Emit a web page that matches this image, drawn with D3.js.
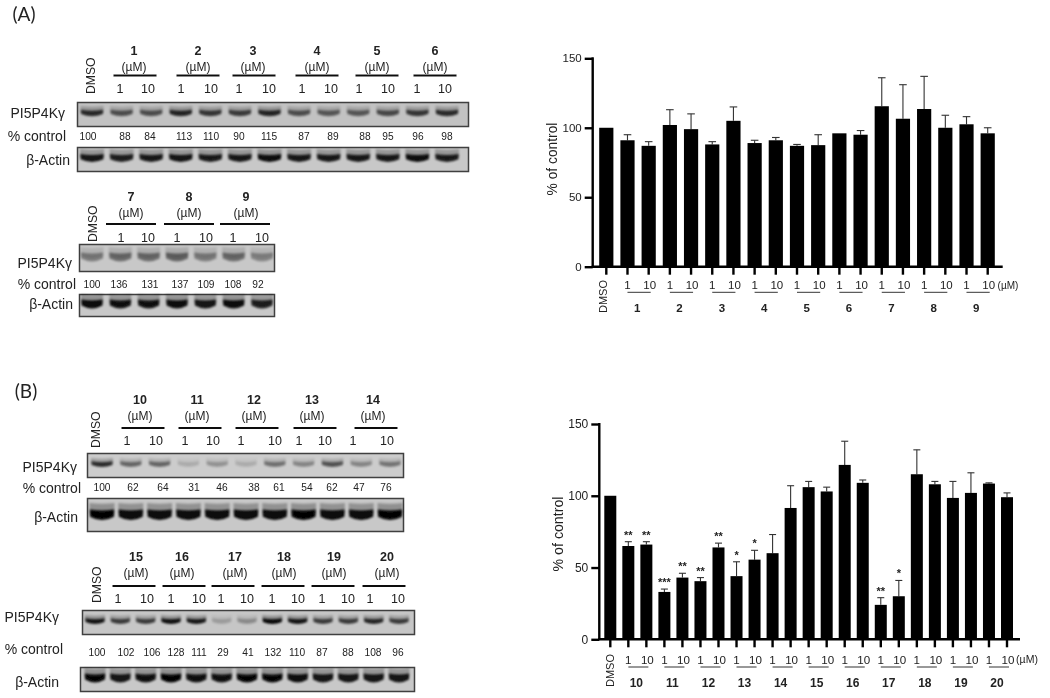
<!DOCTYPE html>
<html><head><meta charset="utf-8">
<script src="https://cdn.jsdelivr.net/npm/d3@7/dist/d3.min.js"></script>
<style>html,body{margin:0;padding:0;background:#fff}svg{display:block}text{font-family:"Liberation Sans",Arial,sans-serif;fill:#222}</style>
</head><body><svg id="fig" width="1050" height="698"></svg>
<script>
// ---- Bar chart data ----
const compoundsA = ["1","2","3","4","5","6","7","8","9"];
const barLabelsA = ["DMSO","1:1","1:10","2:1","2:10","3:1","3:10","4:1","4:10","5:1","5:10","6:1","6:10","7:1","7:10","8:1","8:10","9:1","9:10"];
const meansA = [100,91,87,102,99,88,105,89,91,87,87.5,96,95,115.5,106.5,113.5,100,102.5,96];
const errTopsA = [100,95,90,113,110,90,115,91,93,88,95,96,98,136,131,137,109,108,100];

const compoundsB = ["10","11","12","13","14","15","16","17","18","19","20"];
const barLabelsB = ["DMSO","10:1","10:10","11:1","11:10","12:1","12:10","13:1","13:10","14:1","14:10","15:1","15:10","16:1","16:10","17:1","17:10","18:1","18:10","19:1","19:10","20:1","20:10"];
const meansB = [100,65,66,33,43,40.5,64,44,55.5,60,91.5,106,103,121.5,109,24,30,115,108,98.5,102,108.5,99];
const errTopsB = [100,68,68,35,46,43,67,54,62,73,107,110,106,138,111,29,41,132,110,110,116,109,102];
const starsB = ["","**","**","***","**","**","**","*","*","","","","","","","**","*","","","","","",""];

// ---- Blot data: printed % control and band darkness per lane ----
const pctA1 = [100,88,84,113,110,90,115,87,89,88,95,96,98];
const pctA2 = [100,136,131,137,109,108,92];
const pctB1 = [100,62,64,31,46,38,61,54,62,47,76];
const pctB2 = [100,102,106,128,111,29,41,132,110,87,88,108,96];
const groupsA1 = ["1","2","3","4","5","6"];
const groupsA2 = ["7","8","9"];
const groupsB1 = ["10","11","12","13","14"];
const groupsB2 = ["15","16","17","18","19","20"];
const targetA1 = [.75,.55,.55,.78,.68,.65,.78,.55,.5,.5,.58,.68,.74];
const actinA1 = [.88,.82,.85,.88,.84,.85,.92,.85,.85,.85,.85,.92,.84];
const targetA2 = [.36,.44,.44,.48,.36,.44,.32];
const actinA2 = [.95,.9,.9,.92,.88,.92,.82];
const targetB1 = [.75,.45,.45,.13,.24,.13,.4,.3,.55,.3,.38];
const actinB1 = [.98,.95,.95,.95,.95,.95,.95,.98,.95,.95,.98];
const targetB2 = [.88,.66,.66,.9,.85,.18,.26,.95,.88,.66,.66,.78,.66];
const actinB2 = [.96,.88,.9,.98,.9,.9,.96,.96,.92,.88,.88,.88,.88];

// ---- Layout ----
const svg = d3.select("#fig");
const defs = svg.append("defs");
defs.append("filter").attr("id","soft").attr("x","-5%").attr("y","-5%").attr("width","110%").attr("height","110%")
  .append("feGaussianBlur").attr("stdDeviation",0.38);
defs.append("filter").attr("id","band").attr("x","-30%").attr("y","-80%").attr("width","160%").attr("height","260%")
  .append("feGaussianBlur").attr("stdDeviation",1.1);
const root = svg.append("g").attr("filter","url(#soft)");

function txt(g,x,y,s,size,opt={}){
  return g.append("text").attr("x",x).attr("y",y).attr("font-size",size)
    .attr("text-anchor",opt.anchor||"middle").attr("dominant-baseline","central")
    .attr("font-weight",opt.bold?"bold":null).attr("style",opt.font?`font-family:${opt.font}`:null).text(s);
}
function smile(c,top,w,h,sag){
  const p=d3.path(), l=c-w/2, r=c+w/2;
  p.moveTo(l,top);
  p.quadraticCurveTo(c,top+sag,r,top);
  p.lineTo(r,top+h*.6);
  p.quadraticCurveTo(c,top+h+sag*.9,l,top+h*.6);
  p.closePath();
  return p.toString();
}
function blot(g,b,vals,lanes){
  g.append("rect").attr("x",b.x0+.5).attr("y",b.y0+.5).attr("width",b.x1-b.x0).attr("height",b.y1-b.y0)
    .attr("fill",b.bg).attr("stroke","#3f3f3f").attr("stroke-width",1.5);
  // pale halo over the dark core of each band
  g.selectAll(null).data(vals).join("path")
    .attr("d",(d,i)=>smile(lanes(i),b.cy-b.h*1.0,b.w,b.h*1.4,1.5))
    .attr("fill","#000").attr("opacity",d=>d*.28).attr("filter","url(#band)");
  g.selectAll(null).data(vals).join("path")
    .attr("d",(d,i)=>smile(lanes(i),b.cy-b.h*.45,b.w-1,b.h,2))
    .attr("fill","#000").attr("opacity",d=>d).attr("filter","url(#band)");
}
function panel(p){
  const g = root.append("g");
  const lanes = d3.scaleLinear().domain([0,p.pct.length-1]).range(p.laneRange);
  p.groups.forEach((name,i)=>{
    const c=p.groupX[i];
    txt(g,c,p.yBold,name,12.5,{bold:true});
    txt(g,c,p.yUnit,"(µM)",12);
    const rc=p.ruleX[i];
    g.append("line").attr("x1",rc-p.rule/2).attr("x2",rc+p.rule/2).attr("y1",p.yRule).attr("y2",p.yRule).attr("stroke","#111").attr("stroke-width",1.8);
    txt(g,p.doseX[2*i],p.yDose,"1",12.5);
    txt(g,p.doseX[2*i+1],p.yDose,"10",12.5);
  });
  g.append("text").attr("transform",`translate(${p.dmsoX},${p.dmsoBottom}) rotate(-90)`).attr("font-size",12.2)
    .attr("dominant-baseline","central").text("DMSO");
  blot(g,p.target,p.targetVals,lanes);
  blot(g,p.actin,p.actinVals,lanes);
  p.pct.forEach((v,i)=>txt(g,p.pctX[i],p.yPct,v,10.2));
  txt(g,p.lblTarget[0],p.lblTarget[1],"PI5P4Kγ",14,{anchor:"end"});
  txt(g,p.lblPct[0],p.lblPct[1],"% control",14,{anchor:"end"});
  txt(g,p.lblActin[0],p.lblActin[1],"β-Actin",14,{anchor:"end"});
}
panel({groups:groupsA1,pct:pctA1,targetVals:targetA1,actinVals:actinA1,groupX:[134,198,253,317,377,435],ruleX:[135,198,254,317,377,435],laneRange:[92,447],
  yBold:51,yUnit:67,yRule:75.5,yDose:89,rule:43,dmsoX:91,dmsoBottom:94,yPct:136,
  doseX:[120,148,181,211,239,269,302,331,359,388,417,445],
  pctX:[88,125,150,184,211,239,269,304,333,365,388,418,447],
  target:{x0:77,x1:468,y0:102,y1:126,bg:"#c2c2c2",w:23,h:7,cy:113},
  actin:{x0:77,x1:468,y0:147,y1:171,bg:"#c8c8c8",w:24,h:9,cy:158},
  lblTarget:[65,113],lblPct:[66,136],lblActin:[70,160]});
panel({groups:groupsA2,pct:pctA2,targetVals:targetA2,actinVals:actinA2,groupX:[131,189,246],ruleX:[131,189,245],laneRange:[92,262],
  yBold:197,yUnit:213,yRule:224,yDose:238,rule:50,dmsoX:93,dmsoBottom:242,yPct:284,
  doseX:[121,148,177,206,233,262],
  pctX:[92,119,150,180,206,233,258],
  target:{x0:79,x1:274,y0:244,y1:271,bg:"#c8c8c8",w:23,h:10,cy:257},
  actin:{x0:79,x1:274,y0:294,y1:316,bg:"#c8c8c8",w:22,h:10,cy:304},
  lblTarget:[72,263],lblPct:[76,284],lblActin:[73,304]});
panel({groups:groupsB1,pct:pctB1,targetVals:targetB1,actinVals:actinB1,groupX:[140,197,254,312,373],ruleX:[143,200,257,315,376],laneRange:[102,390],
  yBold:400,yUnit:416,yRule:428,yDose:441,rule:43,dmsoX:96,dmsoBottom:448,yPct:487,
  doseX:[127,156,185,213,241,275,299,325,353,387],
  pctX:[102,133,163,194,222,254,279,307,332,359,386],
  target:{x0:87,x1:403,y0:453,y1:477,bg:"#cccccc",w:22,h:6,cy:464},
  actin:{x0:87,x1:403,y0:498,y1:531,bg:"#c8c8c8",w:25,h:12,cy:515},
  lblTarget:[77,467],lblPct:[81,488],lblActin:[78,517]});
panel({groups:groupsB2,pct:pctB2,targetVals:targetB2,actinVals:actinB2,groupX:[136,182,235,284,334,387],ruleX:[134,184,233,283,333,384],laneRange:[95,399],
  yBold:557,yUnit:573,yRule:586,yDose:599,rule:43,dmsoX:97,dmsoBottom:603,yPct:652,
  doseX:[118,147,171,199,221,247,272,298,322,348,370,398],
  pctX:[97,126,152,176,199,223,248,273,297,322,348,373,398],
  target:{x0:82,x1:414,y0:610,y1:634,bg:"#c6c6c6",w:20,h:6,cy:621},
  actin:{x0:80,x1:414,y0:667,y1:691,bg:"#c8c8c8",w:21,h:10,cy:678},
  lblTarget:[59,617],lblPct:[63,649],lblActin:[59,682]});

txt(root,24,13,"(A)",19,{font:"Lato"});
txt(root,26,390,"(B)",19,{font:"Lato"});

function barChart(c){
  const g = root.append("g");
  const step = (c.cLast-c.cFirst)/(c.labels.length-1);
  const x = d3.scaleBand().domain(c.labels).range([c.cFirst-step/2,c.cLast+step/2]).paddingInner(1-c.barW/step).paddingOuter((1-c.barW/step)/2);
  const y = d3.scaleLinear().domain([0,150]).range([c.y0,c.yTop]);
  const cx = l=>x(l)+x.bandwidth()/2;
  // error bars
  const eb = g.selectAll(null).data(c.labels).join("g").attr("stroke","#333").attr("stroke-width",1.1);
  eb.append("line").attr("x1",cx).attr("x2",cx).attr("y1",(d,i)=>y(c.means[i])).attr("y2",(d,i)=>y(c.tops[i]));
  eb.filter((d,i)=>c.tops[i]>c.means[i]).append("line").attr("x1",d=>cx(d)-c.cap).attr("x2",d=>cx(d)+c.cap)
    .attr("y1",d=>y(c.tops[c.labels.indexOf(d)])).attr("y2",d=>y(c.tops[c.labels.indexOf(d)]));
  // bars
  g.selectAll(null).data(c.labels).join("rect").attr("x",d=>x(d)).attr("width",x.bandwidth())
    .attr("y",(d,i)=>y(c.means[i])).attr("height",(d,i)=>y(0)-y(c.means[i])).attr("fill","#000");
  // axes
  const ax = g.append("g").attr("transform",`translate(0,${c.y0})`).call(d3.axisBottom(x).tickSize(8).tickFormat(""));
  ax.select(".domain").remove();
  ax.selectAll("line").attr("stroke","#000").attr("stroke-width",2.4);
  g.append("line").attr("x1",c.yAxis-1).attr("x2",c.xEnd).attr("y1",c.y0).attr("y2",c.y0).attr("stroke","#000").attr("stroke-width",2.4);
  const ay = g.append("g").attr("transform",`translate(${c.yAxis},0)`).call(d3.axisLeft(y).tickValues([0,50,100,150]).tickSize(8).tickPadding(3));
  ay.select(".domain").attr("stroke","#000").attr("stroke-width",2.4).attr("d",`M0,${c.y0}V${c.yTop-1}`);
  ay.selectAll("line").attr("stroke","#000").attr("stroke-width",2.4);
  ay.selectAll("text").attr("font-size",c.tickFont).attr("fill","#222").style("font-family",'"Liberation Sans"');
  g.append("text").attr("transform",`translate(${c.titleX},${(c.yTitle)}) rotate(-90)`).attr("text-anchor","middle")
    .attr("dominant-baseline","central").attr("font-size",c.titleFont).text("% of control");
  // x labels
  g.append("text").attr("transform",`translate(${cx("DMSO")-c.dmsoDx},${c.dmsoBottom}) rotate(-90)`).attr("font-size",11)
    .attr("dominant-baseline","central").text("DMSO");
  c.groups.forEach(n=>{
    const a=cx(n+":1"), b=cx(n+":10");
    txt(g,a,c.yDose,"1",c.doseFont); txt(g,b+1,c.yDose,"10",c.doseFont);
    g.append("line").attr("x1",a).attr("x2",b+2).attr("y1",c.yUnder).attr("y2",c.yUnder).attr("stroke","#333").attr("stroke-width",1);
    txt(g,(a+b)/2-1,c.yGroup,n,c.groupFont,{bold:true});
  });
  txt(g,c.unitX,c.yDose,"(µM)",c.unitFont);
  if(c.stars) g.selectAll(null).data(c.labels).join("text").attr("x",cx)
    .attr("y",(d,i)=>y(c.tops[i])-3).attr("text-anchor","middle").attr("font-size",11).attr("font-weight","bold").text((d,i)=>c.stars[i]);
}
barChart({labels:barLabelsA,means:meansA,tops:errTopsA,groups:compoundsA,cFirst:606.3,cLast:987.7,barW:14.2,cap:3.8,
  y0:266.7,yTop:58.3,yAxis:592.7,xEnd:1002.7,tickFont:11.5,titleX:552,yTitle:159,titleFont:13.8,dmsoDx:3.5,dmsoBottom:313,
  yDose:285,yUnder:292.3,yGroup:308,doseFont:11.5,groupFont:11.5,unitX:1008,unitFont:10});
barChart({labels:barLabelsB,means:meansB,tops:errTopsB,groups:compoundsB,stars:starsB,cFirst:610.3,cLast:1007,barW:12,cap:3.5,
  y0:639.3,yTop:424,yAxis:599.3,xEnd:1020,tickFont:12,titleX:558,yTitle:534,titleFont:14.2,dmsoDx:0,dmsoBottom:687,
  yDose:659,yUnder:667,yGroup:683,doseFont:11.6,groupFont:12,unitX:1027,unitFont:10.5});
</script></body></html>
